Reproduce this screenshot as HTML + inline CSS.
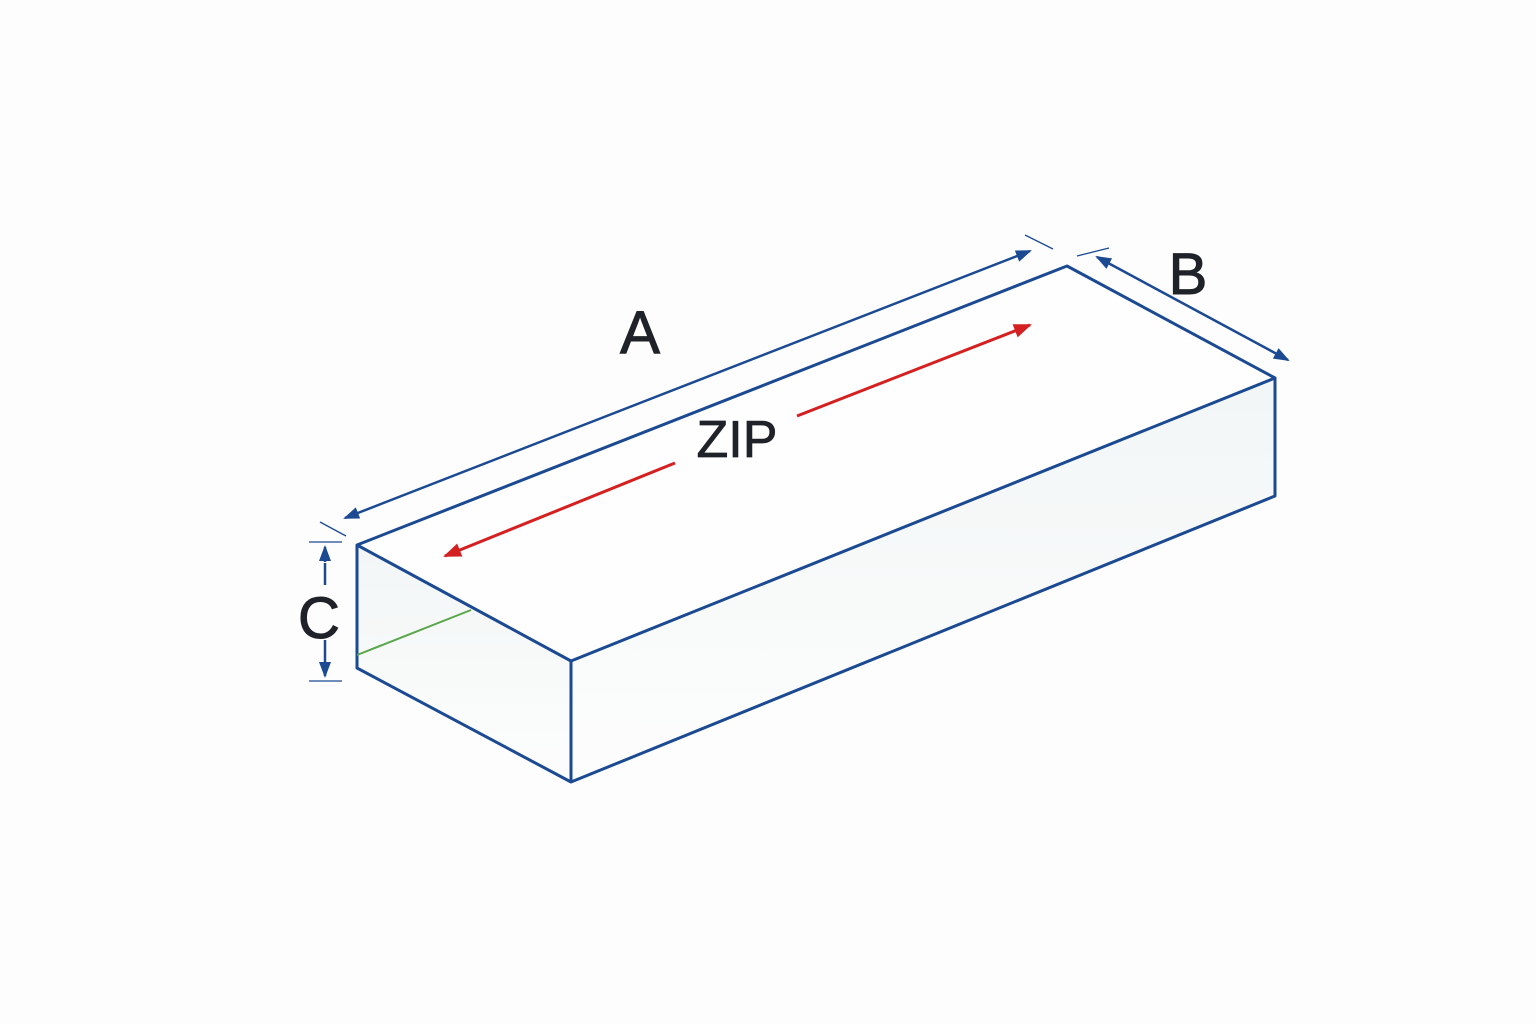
<!DOCTYPE html>
<html><head><meta charset="utf-8"><style>
html,body{margin:0;padding:0;background:#fdfdfd;}
svg{display:block;}
text{font-family:"Liberation Sans",sans-serif;fill:#1f2228;}
</style></head><body>
<svg width="1536" height="1024" viewBox="0 0 1536 1024" xmlns="http://www.w3.org/2000/svg">
<defs>
<marker id="bh" markerWidth="16" markerHeight="12" refX="14" refY="6" orient="auto-start-reverse" markerUnits="userSpaceOnUse"><path d="M0,0 L16,6 L0,12 Z" fill="#1b4a93"/></marker>
<marker id="rh" markerWidth="18" markerHeight="14" refX="16" refY="7" orient="auto" markerUnits="userSpaceOnUse"><path d="M0,0 L18,7 L0,14 Z" fill="#d42020"/></marker>
<linearGradient id="g" x1="0" y1="0" x2="0" y2="1"><stop offset="0" stop-color="#f2f6f6"/><stop offset="1" stop-color="#fdfdfd"/></linearGradient>
</defs>
<polygon points="357,545 1067,266 1275,378 571,661" fill="#fefefe"/>
<polygon points="357,545 571,661 571,782 357,668" fill="url(#g)"/>
<polygon points="571,661 1275,378 1275,496 571,782" fill="url(#g)"/>
<g fill="none" stroke="#1b4a93" stroke-width="3" stroke-linejoin="round">
<polygon points="357,545 1067,266 1275,378 571,661"/>
<polyline points="357,545 357,668 571,782 1275,496 1275,378"/>
<line x1="571" y1="661" x2="571" y2="782"/>
</g>
<line x1="357" y1="655" x2="471" y2="610" stroke="#5aa64a" stroke-width="2"/>
<g stroke="#1b4a93" stroke-width="2.5">
<line x1="1030" y1="251" x2="345" y2="518" marker-start="url(#bh)" marker-end="url(#bh)"/>
<line x1="1097" y1="257" x2="1288" y2="360" marker-start="url(#bh)" marker-end="url(#bh)"/>
<line x1="325" y1="563" x2="325" y2="585" />
<line x1="325" y1="640" x2="325" y2="660" />
<line x1="325" y1="562" x2="325" y2="547" marker-end="url(#bh)"/>
<line x1="325" y1="660" x2="325" y2="676" marker-end="url(#bh)"/>
</g>
<g stroke="#1b4a93" stroke-width="1.3">
<line x1="320" y1="522" x2="346" y2="536"/>
<line x1="1025" y1="235" x2="1053" y2="249"/>
<line x1="1077" y1="256" x2="1109" y2="248"/>
<line x1="309" y1="542" x2="342" y2="542"/>
<line x1="309" y1="681" x2="342" y2="681"/>
</g>
<g stroke="#d42020" stroke-width="3">
<line x1="675" y1="463" x2="445" y2="556" marker-end="url(#rh)"/>
<line x1="797" y1="416" x2="1030" y2="325" marker-end="url(#rh)"/>
</g>
<text x="640" y="353" font-size="60" text-anchor="middle" stroke="#1f2228" stroke-width="1">A</text>
<text x="1188" y="294" font-size="58" text-anchor="middle" stroke="#1f2228" stroke-width="1">B</text>
<text x="737" y="457" font-size="52" text-anchor="middle" stroke="#1f2228" stroke-width="0.8">ZIP</text>
<text x="319" y="638" font-size="58" text-anchor="middle" stroke="#1f2228" stroke-width="1">C</text>
</svg>
</body></html>
